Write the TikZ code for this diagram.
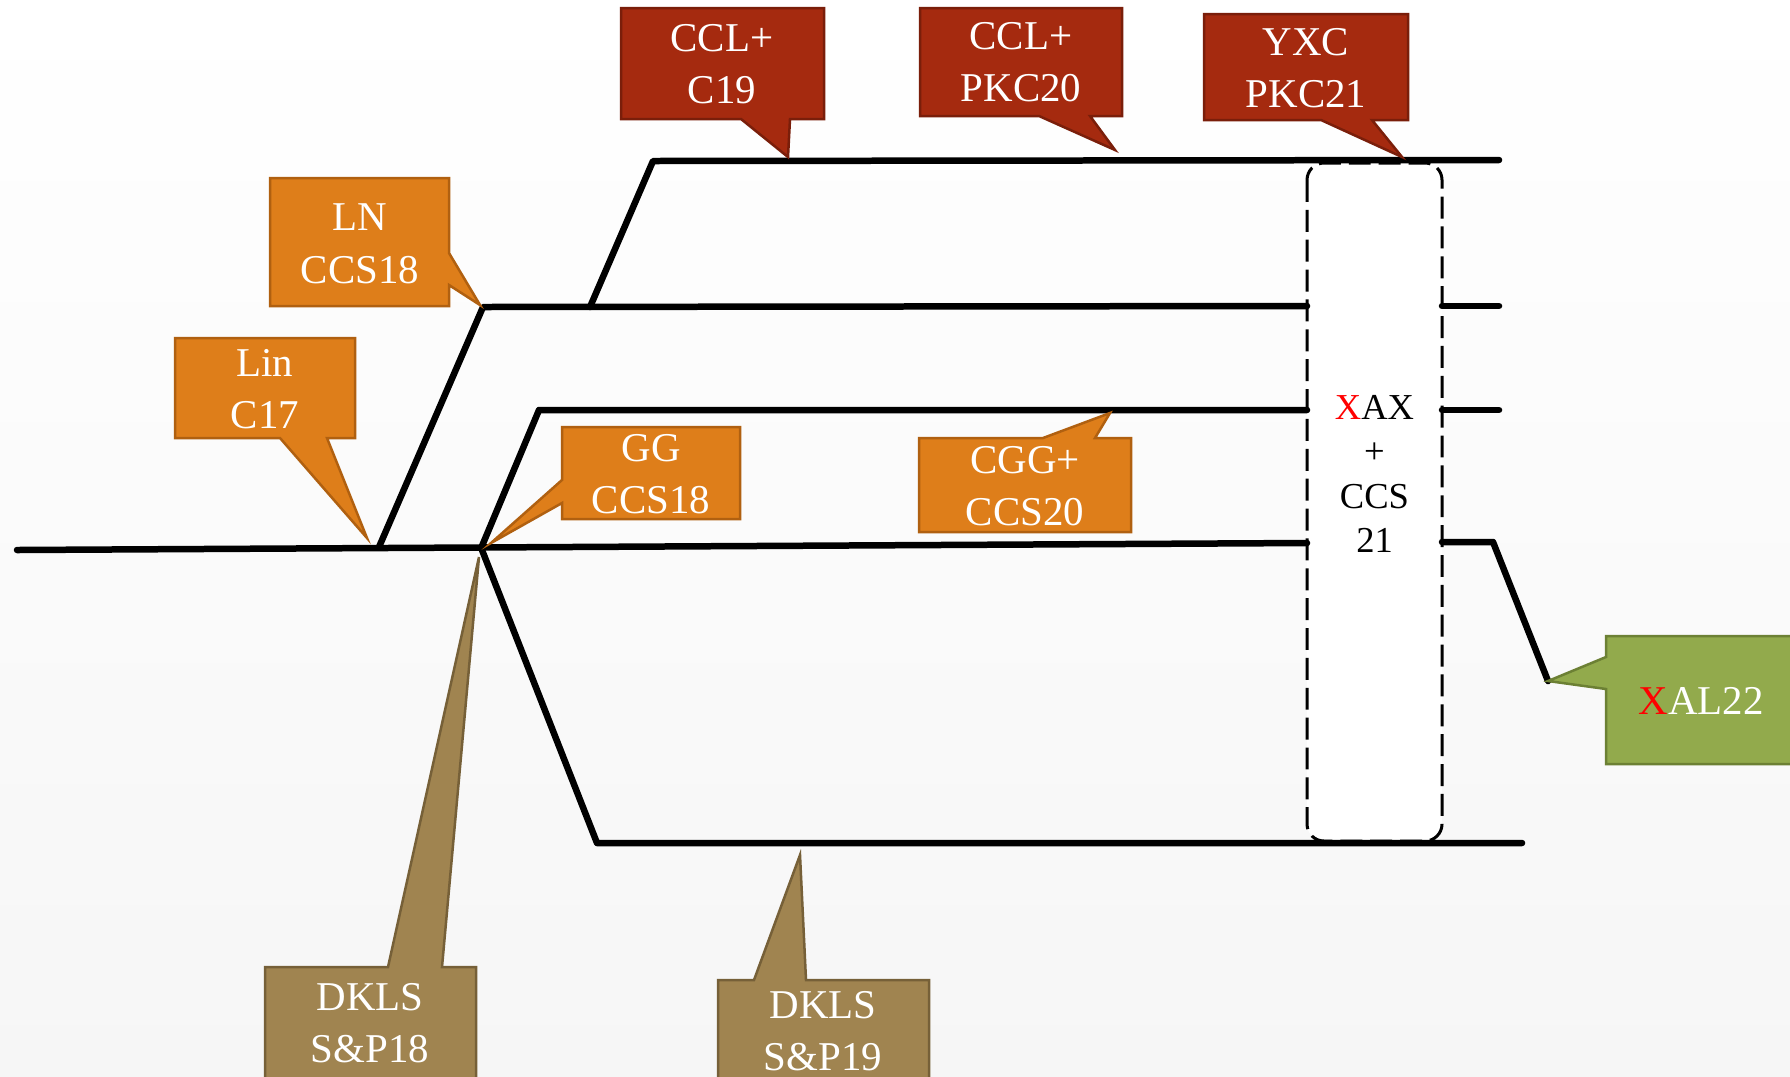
\documentclass[tikz,border=0pt]{standalone}
\usepackage{fontspec}
\setmainfont{Liberation Serif}
\usetikzlibrary{calc}

\definecolor{rustfill}{RGB}{165,42,15}
\definecolor{rustline}{RGB}{122,30,10}
\definecolor{orfill}{RGB}{222,126,26}
\definecolor{orline}{RGB}{176,96,16}
\definecolor{tanfill}{RGB}{160,132,80}
\definecolor{tanline}{RGB}{118,96,56}
\definecolor{grnfill}{RGB}{146,170,76}
\definecolor{grnline}{RGB}{108,128,52}

\tikzset{
	track/.style={line width=0.13cm, line cap=round, line join=round},
	rustcall/.style={fill=rustfill, draw=rustline, line width=0.05cm},
	orcall/.style={fill=orfill, draw=orline, line width=0.05cm},
	tancall/.style={fill=tanfill, draw=tanline, line width=0.05cm},
	grncall/.style={fill=grnfill, draw=grnline, line width=0.05cm},
	calltext/.style={text=white, align=center, inner sep=0pt, font=\fontsize{23.3}{29.9}\selectfont},
	mergebox/.style={fill=white, draw=black, line width=0.06cm, dash pattern=on 12.5pt off 4.5pt, rounded corners=0.34cm},
}

\begin{document}
\begin{tikzpicture}[x=0.02cm,y=-0.02cm]
		\useasboundingbox (0,0) rectangle (1790,1076);
		\clip (0,0) rectangle (1790,1076);
		\shade[top color=white, bottom color=gray!7] (0,0) rectangle (1790,1076);
		
		% junctions of the tracks
		\coordinate (trunkL) at (17,550);
		\coordinate (trunkR) at (1307,543);
		\coordinate (linB) at (379,547);
		\coordinate (lnT) at (483,307);
		\coordinate (lnR) at (1307,306);
		\coordinate (topB) at (590,307);
		\coordinate (topT) at (653,161);
		\coordinate (topR) at (1499,160);
		\coordinate (ggB) at (482,546);
		\coordinate (ggT) at (539,410);
		\coordinate (ggR) at (1307,410);
		\coordinate (dkB) at (482,550);
		\coordinate (dkT) at (597,843);
		\coordinate (dkR) at (1522,843);
		\coordinate (s1L) at (1442,306);
		\coordinate (s1R) at (1499,306);
		\coordinate (s2L) at (1442,410);
		\coordinate (s2R) at (1499,410);
		\coordinate (s3L) at (1442,542);
		\coordinate (s3K) at (1493,542);
		\coordinate (s3T) at (1548,681);
		
		% merge box
		\draw[mergebox] (1307,163) rectangle (1442,841);
		\node[align=center, inner sep=0pt, font=\fontsize{20.8}{25.3}\selectfont] (merge) at (1374.5,474) {\textcolor{red}{X}AX\\+\\CCS\\21};
		
		\draw[track] (trunkL) -- (trunkR);
		\draw[track] (linB) -- (lnT) -- (lnR);
		\draw[track] (topB) -- (topT) -- (topR);
		\draw[track] (ggB) -- (ggT) -- (ggR);
		\draw[track] (dkB) -- (dkT) -- (dkR);
		\draw[track] (s1L) -- (s1R);
		\draw[track] (s2L) -- (s2R);
		\draw[track] (s3L) -- (s3K) -- (s3T);
		
		% callouts
		\filldraw[rustcall] (621,8) -- (824,8) -- (824,119) -- (790,119) -- (788,157) -- (741,119) -- (621,119) -- cycle;
		\node[calltext] (ccla) at (722,64) {CCL+\\C19};
		\filldraw[rustcall] (920,8) -- (1122,8) -- (1122,116) -- (1090,116) -- (1115,150) -- (1039,116) -- (920,116) -- cycle;
		\node[calltext] (cclb) at (1021,62) {CCL+\\PKC20};
		\filldraw[rustcall] (1204,14) -- (1408,14) -- (1408,120) -- (1372,120) -- (1402,157) -- (1321,120) -- (1204,120) -- cycle;
		\node[calltext] (yxc) at (1306,68) {YXC\\PKC21};
		
		\filldraw[orcall] (270,178) -- (449,178) -- (449,253) -- (480,305) -- (449,285) -- (449,306) -- (270,306) -- cycle;
		\node[calltext] (ln) at (360,244) {LN\\CCS18};
		\filldraw[orcall] (175,338) -- (355,338) -- (355,438) -- (327,438) -- (367,538) -- (280,438) -- (175,438) -- cycle;
		\node[calltext] (lin) at (265,389) {Lin\\C17};
		\filldraw[orcall] (562,427) -- (740,427) -- (740,519) -- (562,519) -- (562,503) -- (491,543) -- (562,480) -- cycle;
		\node[calltext] (gg) at (651,474) {GG\\CCS18};
		\filldraw[orcall] (919,438) -- (1043,438) -- (1110,413) -- (1095,438) -- (1131,438) -- (1131,532) -- (919,532) -- cycle;
		\node[calltext] (cgg) at (1025,486) {CGG+\\CCS20};
		
		\filldraw[tancall] (265,967) -- (388,967) -- (479,557) -- (442,967) -- (476,967) -- (476,1095) -- (265,1095) -- cycle;
		\node[calltext] (dkls18) at (370,1023) {DKLS\\S\&P18};
		\filldraw[tancall] (718,980) -- (754,980) -- (800,855) -- (806,980) -- (929,980) -- (929,1095) -- (718,1095) -- cycle;
		\node[calltext] (dkls19) at (823,1031) {DKLS\\S\&P19};
		
		\filldraw[grncall] (1606,636) -- (1810,636) -- (1810,764) -- (1606,764) -- (1606,689) -- (1548,681) -- (1606,657) -- cycle;
		\node[calltext] (xal) at (1701,701) {\textcolor{red}{X}AL22};
\end{tikzpicture}
\end{document}
